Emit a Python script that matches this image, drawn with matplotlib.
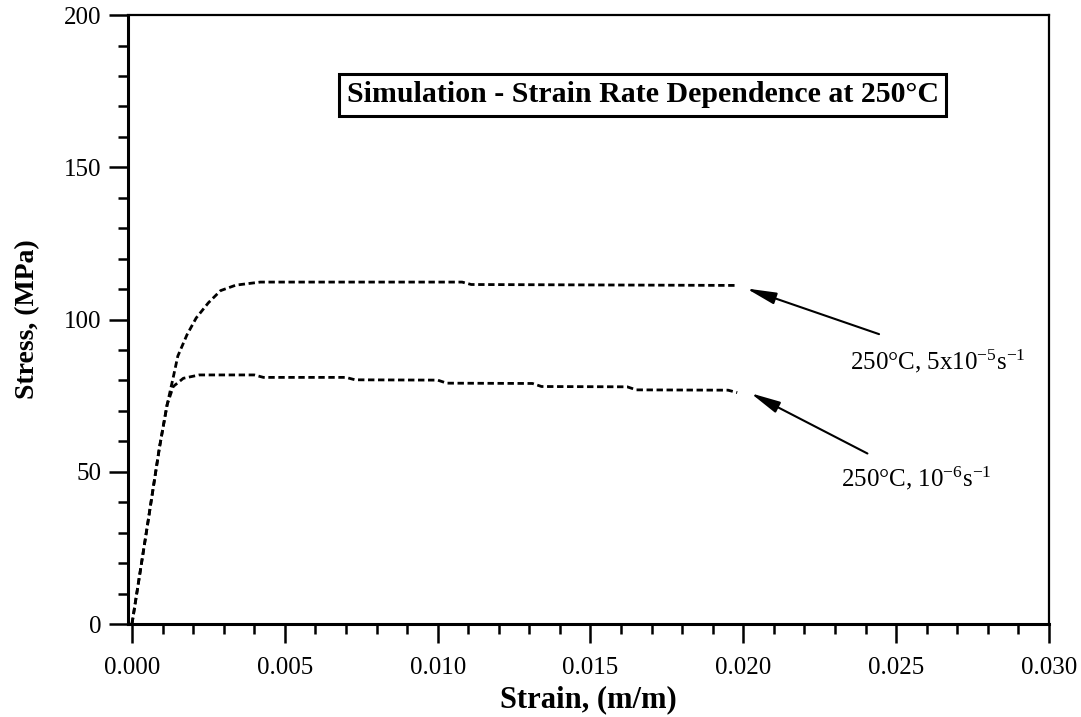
import matplotlib

matplotlib.use("Agg")
import matplotlib.pyplot as plt
from matplotlib.ticker import MultipleLocator

plt.rcParams["font.family"] = ["Liberation Serif", "DejaVu Serif"]
plt.rcParams["mathtext.default"] = "regular"

# simulated stress-strain response at 250 C, two strain rates
strain_fast = [0.0, 0.0005, 0.0009, 0.00115, 0.00135, 0.0015, 0.0018, 0.0021,
               0.0025, 0.0029, 0.0034, 0.0042, 0.0108, 0.0111, 0.0198]
stress_fast = [0.0, 32.0, 58.0, 72.0, 81.0, 88.0, 95.0, 100.5,
               105.5, 109.5, 111.3, 112.3, 112.3, 111.5, 111.2]

strain_slow = [0.0, 0.0005, 0.0009, 0.00115, 0.00135, 0.00168, 0.0022, 0.0040,
               0.0043, 0.0070, 0.0073, 0.0100, 0.0103, 0.0131, 0.0134,
               0.0162, 0.0165, 0.0195, 0.0198]
stress_slow = [0.0, 32.0, 58.0, 72.0, 78.0, 80.7, 81.8, 81.8,
               81.0, 81.0, 80.2, 80.1, 79.1, 79.0, 78.0,
               77.9, 76.9, 76.8, 76.0]

labels = [r"250°C, 5x10$^{-5}$s$^{-1}$", r"250°C, 10$^{-6}$s$^{-1}$"]
arrow_tips = [(0.0201, 110.2), (0.02024, 75.8)]
arrow_tails = [(0.02444, 95.2), (0.02406, 56.0)]
label_pos = [(0.0235, 83.7), (0.0232, 45.1)]

title = "Simulation - Strain Rate Dependence at 250°C"


def main():
    fig = plt.figure(figsize=(10.81, 7.17), dpi=100)
    ax = fig.add_axes([0.1184, 0.1297, 0.852, 0.8493])

    for x, y in [(strain_fast, stress_fast), (strain_slow, stress_slow)]:
        ax.plot(x, y, color="black", lw=2.0, dashes=(2.3, 1.3))

    for tip, tail, pos, text in zip(arrow_tips, arrow_tails, label_pos, labels):
        ax.annotate(
            "",
            xy=tip,
            xytext=tail,
            arrowprops=dict(
                arrowstyle="-|>,head_length=0.9,head_width=0.18",
                color="black",
                lw=1.5,
                mutation_scale=20,
                shrinkA=0,
                shrinkB=0,
            ),
        )
        ax.text(pos[0], pos[1], text, fontsize=18, ha="left", va="baseline")

    ax.text(
        0.559,
        0.869,
        title,
        transform=ax.transAxes,
        fontsize=21.5,
        fontweight="bold",
        ha="center",
        va="center",
        bbox=dict(boxstyle="square,pad=0.25", fc="white", ec="black", lw=2.2),
    )

    ax.set_xlim(-0.00013, 0.030)
    ax.set_ylim(0, 200)
    ax.xaxis.set_major_locator(MultipleLocator(0.005))
    ax.xaxis.set_minor_locator(MultipleLocator(0.001))
    ax.yaxis.set_major_locator(MultipleLocator(50))
    ax.yaxis.set_minor_locator(MultipleLocator(10))
    ax.xaxis.set_major_formatter(plt.FormatStrFormatter("%.3f"))

    ax.tick_params(which="both", direction="out", width=1.8, labelsize=18)
    ax.tick_params(which="major", length=14)
    ax.tick_params(which="minor", length=7)
    ax.tick_params(axis="x", which="major", pad=10)
    ax.tick_params(axis="y", which="major", pad=5)

    for side in ["left", "bottom"]:
        ax.spines[side].set_linewidth(2.2)
    for side in ["top", "right"]:
        ax.spines[side].set_linewidth(1.6)

    ax.set_xlabel("Strain, (m/m)", fontsize=22, fontweight="bold", labelpad=4)
    ax.set_ylabel("Stress, (MPa)", fontsize=20, fontweight="bold", labelpad=17)

    fig.savefig("out.png", dpi=100)


if __name__ == "__main__":
    main()
